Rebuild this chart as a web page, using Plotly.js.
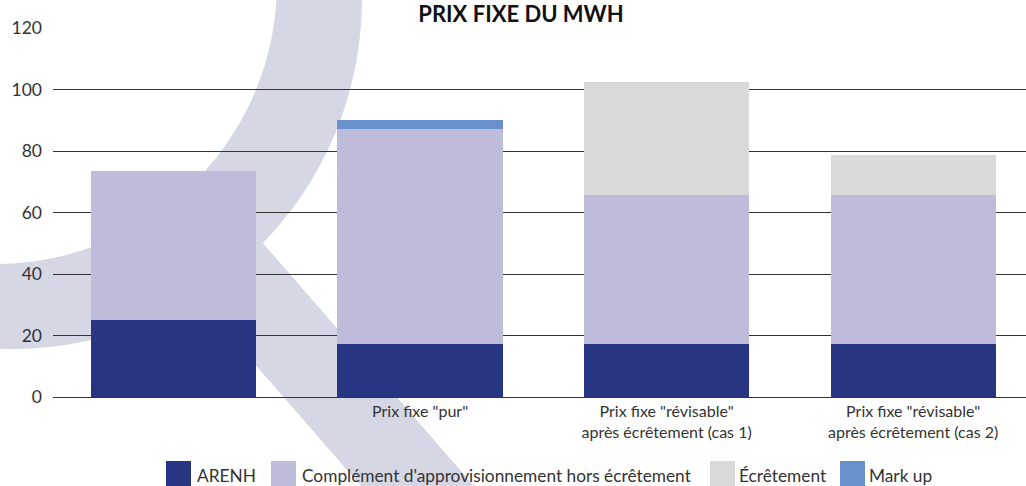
<!DOCTYPE html>
<html>
<head>
<meta charset="utf-8">
<script src="https://cdn.plot.ly/plotly-3.0.1.min.js"></script>
<style>html,body{margin:0;padding:0;background:#fff;}#chart{width:1026px;height:486px;}</style>
</head>
<body>
<div id="chart"></div>
<script>
// ---- data ----
const categories = ["", "Prix fixe \"pur\"", "Prix fixe \"révisable\"<br>après écrêtement (cas 1)", "Prix fixe \"révisable\"<br>après écrêtement (cas 2)"];
const seriesNames = ["ARENH", "Complément d'approvisionnement hors écrêtement", "Écrêtement", "Mark up"];
const arenh = [25, 17.1, 17.1, 17.1];
const complement = [48.5, 70, 48.5, 48.5];
const ecretement = [0, 0, 36.8, 13.1];
const markup = [0, 3, 0, 0];
const yTicks = [0, 20, 40, 60, 80, 100, 120];
const chartTitle = "PRIX FIXE DU MWH";

// ---- styles ----
const colors = ["#283583", "#BEBCDA", "#D9D9D9", "#6890CB"];
const W = 1026, H = 486;
const M = {l: 53, r: 0, t: 28, b: 89};
const PW = W - M.l - M.r, PH = H - M.t - M.b;
const px2x = p => (p - M.l) / PW;
const py2y = p => (H - M.b - p) / PH;
const FONT = "Lato, 'Open Sans', sans-serif";

const xIdx = categories.map((c, i) => i);
const seriesValues = [arenh, complement, ecretement, markup];
const traces = seriesValues.map((vals, k) => ({
  type: "bar",
  x: xIdx,
  y: vals,
  name: seriesNames[k],
  marker: {color: colors[k], line: {width: 0}},
  hoverinfo: "skip",
  showlegend: false
}));

// watermark (decorative K logo shape)
const svg = `<svg xmlns="http://www.w3.org/2000/svg" width="${W}" height="${H}" viewBox="0 0 ${W} ${H}">
<g fill="#D5D7E5">
<path d="M276.5,0 A281,281 0 0 1 0,264 L0,348.8 A350,350 0 0 0 362,0 Z"/>
<path d="M262,242 L474,486 L361,486 L150,244 L230,200 Z"/>
</g></svg>`;
const svgUri = "data:image/svg+xml;charset=utf-8," + encodeURIComponent(svg);

// custom legend
const legX = [166, 271, 710, 840];
const legTextX = [195, 299.5, 737, 867];
const shapes = [], annotations = [];
seriesNames.forEach((n, k) => {
  shapes.push({type: "rect", xref: "paper", yref: "paper",
    x0: px2x(legX[k]), x1: px2x(legX[k] + 25), y0: py2y(486), y1: py2y(461),
    fillcolor: colors[k], line: {width: 0}});
  annotations.push({xref: "paper", yref: "paper", x: px2x(legTextX[k]), y: py2y(475),
    xanchor: "left", yanchor: "middle", text: n, showarrow: false,
    font: {family: FONT, size: 17.3, color: "#333"}});
});

const layout = {
  width: W, height: H,
  margin: M,
  paper_bgcolor: "#fff",
  plot_bgcolor: "rgba(0,0,0,0)",
  barmode: "stack",
  bargap: 0.33,
  showlegend: false,
  title: {text: "<b>" + chartTitle + "</b>", x: 521 / W, xref: "container", xanchor: "center",
    y: 1 - 7 / H, yref: "container", yanchor: "top",
    font: {family: FONT, size: 22, color: "#111"}},
  xaxis: {
    range: [-0.489, 3.458],
    tickvals: xIdx, ticktext: categories,
    showgrid: false, zeroline: false, showline: false, ticks: "",
    ticklabelstandoff: 3,
    tickfont: {family: FONT, size: 16, color: "#333"},
    fixedrange: true
  },
  yaxis: {
    range: [0, 120],
    tickvals: yTicks,
    showgrid: true, gridcolor: "#333", gridwidth: 1,
    zeroline: true, zerolinecolor: "#333", zerolinewidth: 1,
    showline: false, ticks: "",
    ticklabelstandoff: 10,
    tickfont: {family: FONT, size: 17.5, color: "#333"},
    fixedrange: true
  },
  images: [{source: svgUri, xref: "paper", yref: "paper",
    x: px2x(0), y: py2y(0), sizex: W / PW, sizey: H / PH,
    xanchor: "left", yanchor: "top", sizing: "stretch", layer: "below"}],
  shapes: shapes,
  annotations: annotations
};

Plotly.newPlot("chart", traces, layout, {displayModeBar: false, staticPlot: true});
</script>
</body>
</html>
